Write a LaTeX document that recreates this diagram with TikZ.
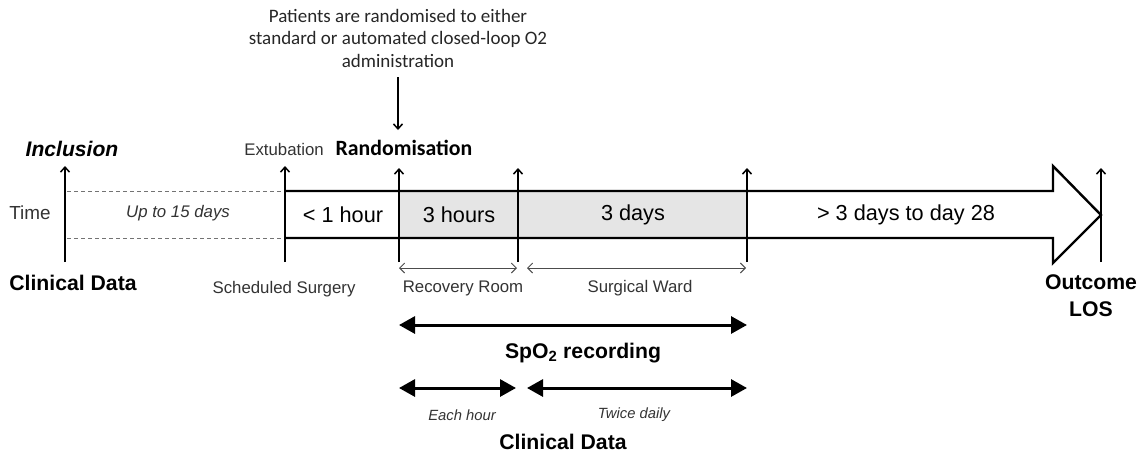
\documentclass[tikz,border=0pt]{standalone}
\usepackage{fontspec}
\setmainfont{Liberation Sans}
\newfontfamily\carlitofont{Carlito}
\usetikzlibrary{arrows.meta}
\begin{document}
\begin{tikzpicture}[x=1pt,y=-1pt,
  lbl/.style={inner sep=0pt,anchor=center,font=\fontsize{16.8}{20}\selectfont,text=black!80},
  big/.style={inner sep=0pt,anchor=center,font=\fontsize{21.7}{24}\selectfont},
  bbig/.style={inner sep=0pt,anchor=center,font=\fontsize{21.2}{24}\selectfont\bfseries},
  tick/.style={line width=1.8pt,-{Straight Barb[length=5pt,width=9pt,line width=1.5pt]}},
  thin/.style={line width=0.9pt,black!70,{Straight Barb[length=5pt,width=10pt]}-{Straight Barb[length=5pt,width=10pt]}},
  thick/.style={line width=3pt,{Triangle[length=16pt,width=17pt]}-{Triangle[length=16pt,width=17pt]}},
  band/.style={line width=2.4pt,line join=miter}]
\useasboundingbox (0,0) rectangle (1141,456);
% grey fill
\fill[black!10] (399,191) rectangle (747,238);
% dashed lines
\draw[black!55,line width=1pt,dash pattern=on 4pt off 3pt] (67,191) -- (285,191);
\draw[black!55,line width=1pt,dash pattern=on 4pt off 3pt] (67,238) -- (285,238);
% band arrow
\draw[band] (285,191) -- (1053,191) -- (1053,166) -- (1101,215) -- (1053,263) -- (1053,238) -- (285,238);
% vertical ticks
\coordinate (inB) at (65,262); \coordinate (inT) at (65,166);
\coordinate (exB) at (285,262); \coordinate (exT) at (285,166);
\coordinate (raB) at (399,262); \coordinate (raT) at (399,168);
\coordinate (reB) at (518,262); \coordinate (reT) at (518,168);
\coordinate (waB) at (747,262); \coordinate (waT) at (747,168);
\coordinate (ouB) at (1101,262); \coordinate (ouT) at (1101,168);
\draw[tick] (inB) -- (inT);
\draw[tick] (exB) -- (exT);
\draw[tick] (raB) -- (raT);
\draw[tick] (reB) -- (reT);
\draw[tick] (waB) -- (waT);
\draw[tick] (ouB) -- (ouT);
% top text
\node[inner sep=0pt,align=center,font=\carlitofont\fontsize{19}{22.5}\selectfont,text=black!85] (top) at (398,38)
  {Patients are randomised to either\\standard or automated closed-loop O2\\administration};
\coordinate (topA) at (398,77); \coordinate (topB) at (398,130);
\draw[line width=1.8pt,-{Straight Barb[length=5pt,width=9pt,line width=1.5pt]}] (topA) -- (topB);
% labels above
\node[bbig,font=\fontsize{21.1}{24}\selectfont\bfseries\itshape] (incl) at (72,149) {Inclusion};
\node[lbl] (extu) at (284,149) {Extubation};
\node[inner sep=0pt,font=\carlitofont\fontsize{21.8}{24}\selectfont\bfseries] (rand) at (404,148) {Randomisation};
% band texts
\node[lbl,font=\fontsize{18.9}{22}\selectfont] (time) at (30,213) {Time};
\node[lbl,font=\fontsize{16.8}{20}\selectfont\itshape] (up15) at (178,213) {Up to 15 days};
\node[big] (h1) at (343,215) {< 1 hour};
\node[big] (h3) at (459,215) {3 hours};
\node[big] (d3) at (633,215) {3 days};
\node[big] (d28) at (906,215) {> 3 days to day 28};
% below
\node[bbig] (cd1) at (73,283) {Clinical Data};
\node[lbl] (sched) at (284,289) {Scheduled Surgery};
\node[lbl] (rr) at (463,288) {Recovery Room};
\node[lbl] (sw) at (640,288) {Surgical Ward};
\node[bbig,align=center,font=\fontsize{21.2}{27}\selectfont\bfseries] (out) at (1091,296) {Outcome\\LOS};
\coordinate (rrL) at (399,268); \coordinate (rrR) at (517,268);
\coordinate (swL) at (527,268); \coordinate (swR) at (746,268);
\draw[thin] (rrL) -- (rrR);
\draw[thin] (swL) -- (swR);
\coordinate (spL) at (399,325); \coordinate (spR) at (747,325);
\draw[thick] (spL) -- (spR);
\node[bbig] (spo) at (583,353) {SpO\textsubscript{2} recording};
\coordinate (ehL) at (399,388); \coordinate (ehR) at (516,388);
\coordinate (tdL) at (527,388); \coordinate (tdR) at (747,388);
\draw[thick] (ehL) -- (ehR);
\draw[thick] (tdL) -- (tdR);
\node[lbl,font=\fontsize{14.8}{17}\selectfont\itshape] (eh) at (462,415) {Each hour};
\node[lbl,font=\fontsize{14.8}{17}\selectfont\itshape] (td) at (634,415) {Twice daily};
\node[bbig] (cd2) at (563,442) {Clinical Data};
\end{tikzpicture}
\end{document}
